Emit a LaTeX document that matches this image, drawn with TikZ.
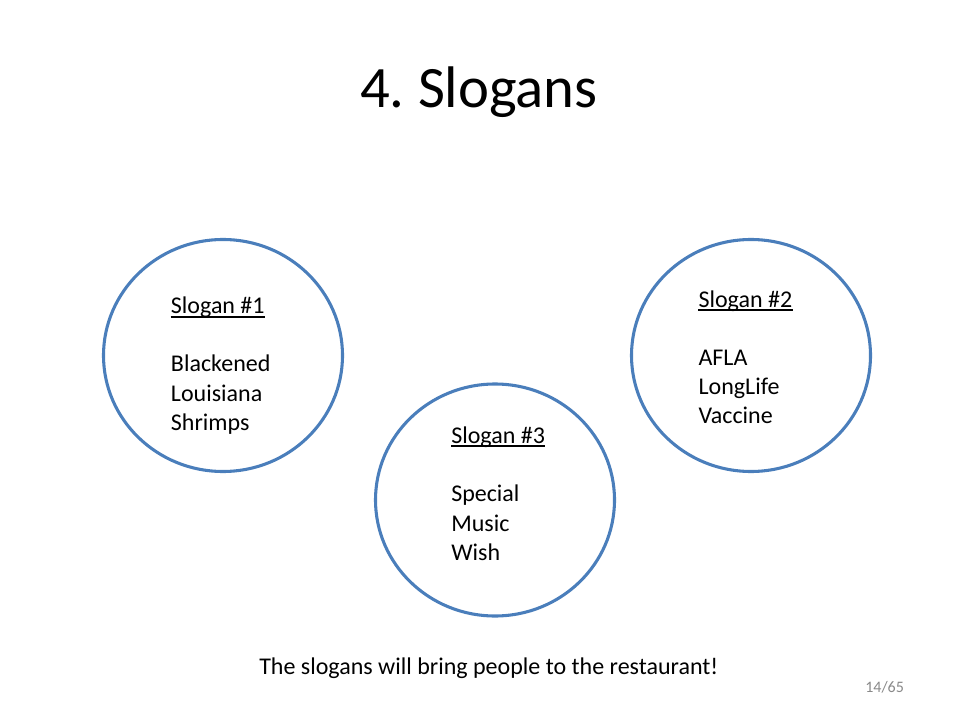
\documentclass[tikz,border=0pt]{standalone}
\usepackage{fontspec}
\setmainfont{Carlito}
\usetikzlibrary{positioning}
\usetikzlibrary{calc}

\definecolor{ringblue}{RGB}{74,126,187}
\definecolor{pagegray}{RGB}{137,137,137}

\begin{document}
\begin{tikzpicture}[x=0.75pt,y=-0.75pt,
    ring/.style={draw=ringblue,line width=2.3pt},
    txt/.style={anchor=base west,inner sep=0pt,font=\fontsize{18}{21.6}\selectfont}]
        \useasboundingbox (0,0) rectangle (960,720);

        % Define the centres of the circles
        \coordinate (r1) at (223,355.5);
        \coordinate (r2) at (751,355.5);
        \coordinate (r3) at (495,500);

        % Draw the circles
        \foreach \c in {r1,r2,r3}
        \draw[ring] (\c) ellipse (119.5 and 116);

        \node[font=\fontsize{44}{52.8}\selectfont,anchor=base] (title) at (479,108) {4.\ Slogans};

        % Headings, underlined
        \node[txt] (h1) at (170.7,314) {Slogan \#1};
        \node[txt] (h2) at (698.3,307.3) {Slogan \#2};
        \node[txt] (h3) at (451,443.3) {Slogan \#3};
        \foreach \h in {h1,h2,h3}
        \draw[line width=1.2pt] ([yshift=-2.2pt]\h.base west) -- ([yshift=-2.2pt]\h.base east);

        \foreach \n/\x/\y/\wa/\wb/\wc in {1/170.7/371.7/Blackened/Louisiana/Shrimps,
            2/698.3/365/AFLA/LongLife/Vaccine, 3/451/501.7/Special/Music/Wish}{
          \node[txt] (s\n a) at (\x,\y) {\wa};
          \node[txt] (s\n b) at (\x,\y+29.3) {\wb};
          \node[txt] (s\n c) at (\x,\y+58.6) {\wc};
        }

        \node[txt] (note) at (259,674.3) {The slogans will bring people to the restaurant!};
        \node[txt,text=pagegray,font=\fontsize{12}{14.4}\selectfont] (page) at (865,692.3) {14/65};
      \end{tikzpicture}
\end{document}
